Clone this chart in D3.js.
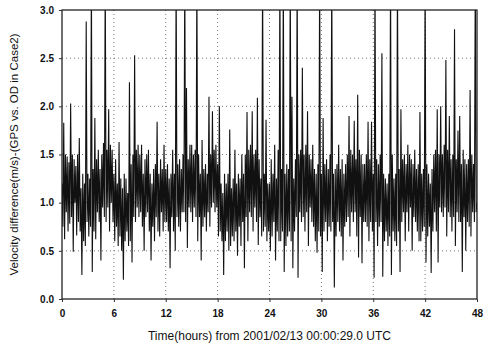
<!DOCTYPE html>
<html>
<head>
<meta charset="utf-8">
<script src="https://cdn.jsdelivr.net/npm/d3@7"></script>
<style>
  body { margin: 0; background: #fff; }
  svg { display: block; }
</style>
</head>
<body>
<div id="chart"></div>
<script>
// velocity difference samples, one every 0.1 hours from hour 0 to 48
// one row per hour
const sampleHours = 0.1;
const velocityDiff = [
  1.2, 0.75, 1.83, 0.62, 1.5, 0.9, 1.48, 0.7, 1.42, 0.78,
  2.03, 0.85, 1.5, 0.49, 1.45, 1.0, 1.38, 0.66, 1.5, 0.8,
  1.67, 0.7, 1.15, 0.25, 1.3, 0.6, 1.2, 0.55, 2.88, 0.8,
  1.3, 0.65, 1.25, 0.75, 3.4, 0.28, 1.35, 0.7, 1.88, 0.62,
  1.45, 0.9, 1.55, 0.8, 1.35, 0.4, 1.5, 0.95, 1.62, 0.85,
  3.4, 0.8, 1.55, 0.95, 1.97, 0.7, 1.6, 1.0, 1.55, 0.8,
  1.3, 0.6, 1.45, 0.75, 1.2, 0.55, 1.63, 0.65, 1.25, 0.5,
  1.15, 0.2, 1.3, 0.6, 1.25, 0.7, 1.1, 0.55, 2.25, 0.6,
  1.4, 0.38, 1.5, 0.85, 2.53, 0.8, 1.55, 0.95, 1.6, 0.85,
  1.5, 0.9, 1.6, 0.75, 1.3, 0.5, 1.45, 0.85, 1.5, 0.9,
  1.55, 0.7, 1.3, 0.4, 1.2, 0.75, 1.35, 0.6, 1.4, 0.85,
  1.84, 0.7, 1.3, 0.65, 1.45, 0.9, 1.35, 0.7, 1.6, 0.8,
  1.35, 0.8, 1.4, 0.7, 1.25, 0.32, 1.3, 0.85, 1.55, 0.7,
  1.3, 0.5, 3.4, 0.85, 1.4, 0.75, 1.45, 0.7, 1.35, 0.9,
  1.5, 0.9, 3.4, 0.8, 2.19, 0.53, 1.45, 0.95, 1.6, 0.9,
  1.6, 0.8, 1.5, 0.95, 1.55, 0.85, 3.4, 0.6, 1.5, 0.85,
  1.3, 0.4, 1.65, 0.75, 1.35, 0.85, 1.4, 0.7, 1.3, 0.9,
  2.1, 0.75, 1.5, 0.95, 1.95, 1.0, 1.55, 0.9, 1.6, 0.95,
  1.4, 0.65, 2.0, 0.7, 1.2, 0.6, 1.1, 0.25, 1.3, 0.6,
  1.2, 0.7, 1.3, 0.5, 1.76, 0.55, 1.15, 0.65, 1.25, 0.6,
  1.55, 0.7, 1.2, 0.45, 1.3, 0.75, 1.25, 0.55, 1.5, 0.8,
  1.3, 0.32, 1.5, 0.85, 1.94, 0.6, 1.55, 0.9, 1.6, 0.85,
  1.95, 0.7, 1.5, 0.95, 1.55, 0.8, 2.09, 0.56, 1.45, 0.85,
  1.25, 0.65, 3.4, 0.7, 1.3, 0.75, 1.86, 0.6, 1.2, 0.7,
  1.2, 0.5, 1.45, 0.65, 1.3, 0.8, 1.6, 0.4, 1.25, 0.7,
  1.55, 0.6, 3.4, 0.6, 1.35, 0.7, 3.4, 0.28, 1.3, 0.55,
  1.4, 0.65, 1.35, 0.7, 3.4, 0.6, 2.1, 0.32, 1.25, 0.7,
  1.45, 0.85, 3.4, 0.22, 1.5, 0.9, 1.55, 0.8, 2.4, 0.85,
  1.5, 0.7, 1.6, 0.9, 1.95, 0.55, 1.5, 0.95, 1.45, 0.8,
  1.6, 0.75, 1.35, 0.6, 1.3, 0.48, 1.4, 0.7, 3.4, 0.65,
  1.3, 0.28, 1.88, 0.7, 1.4, 0.8, 1.45, 0.6, 1.35, 0.75,
  1.5, 0.7, 3.4, 0.8, 1.3, 0.12, 1.35, 0.65, 1.4, 0.8,
  1.6, 0.7, 1.35, 0.65, 1.45, 0.4, 1.3, 0.75, 1.4, 0.8,
  1.5, 0.85, 1.9, 0.65, 1.55, 0.9, 1.5, 0.8, 1.85, 0.9,
  1.45, 0.65, 2.12, 0.43, 1.55, 0.85, 1.5, 0.37, 1.4, 0.8,
  1.4, 0.8, 1.5, 0.75, 1.84, 0.6, 1.45, 0.8, 1.84, 0.7,
  1.3, 0.22, 3.4, 0.8, 1.45, 0.55, 1.4, 0.75, 1.5, 0.8,
  2.55, 0.23, 1.3, 0.6, 1.25, 0.7, 1.2, 0.55, 1.3, 0.65,
  3.4, 0.25, 1.5, 0.7, 1.25, 0.6, 1.3, 0.55, 3.4, 0.7,
  1.35, 0.28, 1.97, 0.8, 1.45, 0.9, 1.5, 0.6, 1.4, 0.9,
  1.6, 0.7, 1.5, 0.95, 1.45, 0.5, 1.4, 0.85, 1.55, 0.8,
  1.35, 0.7, 1.4, 0.6, 1.94, 0.6, 1.3, 0.7, 1.35, 0.75,
  3.4, 0.38, 1.4, 0.65, 1.3, 0.75, 1.2, 0.27, 1.35, 0.7,
  1.5, 0.9, 1.55, 0.7, 1.97, 0.38, 1.5, 0.95, 2.0, 0.9,
  1.5, 0.85, 1.6, 0.95, 2.48, 0.65, 1.55, 0.9, 1.9, 0.85,
  1.45, 0.7, 1.5, 0.85, 2.8, 0.55, 1.45, 0.9, 1.75, 0.8,
  1.9, 0.8, 1.4, 0.28, 1.55, 0.85, 1.45, 0.5, 1.4, 0.8,
  1.45, 0.75, 2.17, 0.65, 1.5, 0.9, 1.4, 0.8, 3.4, 0.9,
  1.0
];
const xTicks = [0, 6, 12, 18, 24, 30, 36, 42, 48];
const yTicks = [0.0, 0.5, 1.0, 1.5, 2.0, 2.5, 3.0];
const xTitle = 'Time(hours) from 2001/02/13 00:00:29.0 UTC';
const yTitle = 'Velocity difference(m/s)-(GPS vs. OD in Case2)';

const width = 487, height = 351;
const margin = { top: 10, right: 10, bottom: 52, left: 62 };
const innerW = width - margin.left - margin.right;
const innerH = height - margin.top - margin.bottom;

const x = d3.scaleLinear().domain([0, 48]).range([0, innerW]);
const y = d3.scaleLinear().domain([0, 3]).range([innerH, 0]);

const svg = d3.select('#chart').append('svg')
  .attr('width', width)
  .attr('height', height);

const g = svg.append('g')
  .attr('transform', 'translate(' + margin.left + ',' + margin.top + ')');

svg.append('defs').append('clipPath').attr('id', 'plot-clip')
  .append('rect').attr('width', innerW).attr('height', innerH);

// dotted grid
g.append('g').selectAll('line')
  .data(yTicks.slice(1, -1))
  .enter().append('line')
  .attr('x1', 0).attr('x2', innerW)
  .attr('y1', d => y(d)).attr('y2', d => y(d))
  .attr('stroke', '#777').attr('stroke-dasharray', '1,3');

g.append('g').selectAll('line')
  .data(xTicks.slice(1, -1))
  .enter().append('line')
  .attr('y1', 0).attr('y2', innerH)
  .attr('x1', d => x(d)).attr('x2', d => x(d))
  .attr('stroke', '#777').attr('stroke-dasharray', '1,3');

// the series
const line = d3.line()
  .x((d, i) => x(i * sampleHours))
  .y(d => y(d));

g.append('path')
  .datum(velocityDiff)
  .attr('clip-path', 'url(#plot-clip)')
  .attr('d', line)
  .attr('fill', 'none')
  .attr('stroke', '#111')
  .attr('stroke-width', 1.1)
  .attr('stroke-linejoin', 'miter');

// frame
g.append('rect')
  .attr('width', innerW).attr('height', innerH)
  .attr('fill', 'none')
  .attr('stroke', '#222')
  .attr('stroke-width', 1.3);

// axes
const xAxis = g.append('g')
  .attr('transform', 'translate(0,' + innerH + ')')
  .call(d3.axisBottom(x).tickValues(xTicks).tickSize(3).tickFormat(d3.format('d')));

const yAxis = g.append('g')
  .call(d3.axisLeft(y).tickValues(yTicks).tickSize(3).tickFormat(d3.format('.1f')));

[xAxis, yAxis].forEach(a => {
  a.select('.domain').remove();
  a.selectAll('line').attr('stroke', '#333');
  a.selectAll('text')
    .attr('font-family', 'Liberation Sans, Arial, sans-serif')
    .attr('font-size', 10)
    .attr('font-weight', 'bold')
    .attr('fill', '#111');
});
xAxis.selectAll('text').attr('dy', '1.15em');
yAxis.selectAll('text').attr('x', -8);

svg.append('text')
  .attr('x', margin.left + innerW / 2)
  .attr('y', 340)
  .attr('text-anchor', 'middle')
  .attr('font-family', 'Liberation Sans, Arial, sans-serif')
  .attr('font-size', 12)
  .attr('fill', '#111')
  .text(xTitle);

svg.append('text')
  .attr('transform', 'translate(18,' + (margin.top + innerH / 2) + ') rotate(-90)')
  .attr('text-anchor', 'middle')
  .attr('font-family', 'Liberation Sans, Arial, sans-serif')
  .attr('font-size', 11.5)
  .attr('fill', '#111')
  .text(yTitle);
</script>
</body>
</html>
